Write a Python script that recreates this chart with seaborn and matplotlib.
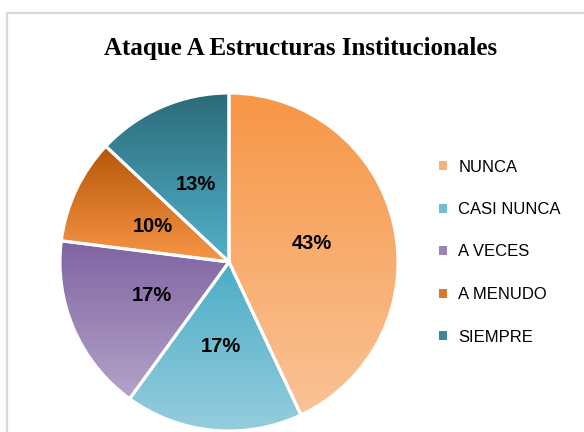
import numpy as np
import matplotlib
matplotlib.use("Agg")
import matplotlib.pyplot as plt
from matplotlib.colors import LinearSegmentedColormap
from matplotlib.patches import Patch, Rectangle
import seaborn as sns

# Data
categories = ["NUNCA", "CASI NUNCA", "A VECES", "A MENUDO", "SIEMPRE"]
values = [43, 17, 17, 10, 13]
title = "Ataque A Estructuras Institucionales"

# Gradient colors per slice (top, bottom)
top_colors = ["#F79646", "#4BACC6", "#8064A2", "#B65708", "#2B6B7A"]
bottom_colors = ["#FAC396", "#96CEDE", "#B3A3C9", "#F79646", "#52B1CA"]
legend_colors = ["#F9B07A", "#6FBED3", "#9A85B6", "#D9772A", "#3B8A9C"]

sns.set_theme(style="white")
plt.rcParams["font.family"] = ["Liberation Sans", "DejaVu Sans"]
plt.rcParams["text.color"] = "black"

fig = plt.figure(figsize=(5.84, 4.32), dpi=100)

# light gray outer frame (chart area border)
fig.patches.append(Rectangle((6.5 / 584, -0.1), 1.2, 1 - 13.5 / 432 + 0.1,
                             transform=fig.transFigure, fill=False,
                             edgecolor="#D9D9D9", linewidth=1.6))

ax = fig.add_axes([60 / 584, 1 / 432, 338 / 584, 338 / 432])
wedges, texts, autotexts = ax.pie(
    values, startangle=90, counterclock=False, radius=1,
    colors=legend_colors, autopct="%1.0f%%", pctdistance=0.5,
    wedgeprops=dict(edgecolor="white", linewidth=2.2),
    textprops=dict(fontsize=14.5, fontweight="bold", color="black"),
)

# vertical gradient inside each wedge
grad = np.linspace(0, 1, 256).reshape(-1, 1)
for w, ct, cb in zip(wedges, top_colors, bottom_colors):
    verts = w.get_path().vertices
    x0, y0 = verts.min(axis=0)
    x1, y1 = verts.max(axis=0)
    cmap = LinearSegmentedColormap.from_list("g", [ct, cb])
    im = ax.imshow(grad, cmap=cmap, extent=[x0, x1, y0, y1], origin="upper",
                   aspect="auto", zorder=w.get_zorder() + 0.1)
    im.set_clip_path(w)
    w.set_zorder(w.get_zorder() + 0.2)
    w.set_facecolor("none")
for t in autotexts:
    t.set_zorder(5)

ax.set_xlim(-1.0, 1.0)
ax.set_ylim(-1.0, 1.0)
ax.set_aspect("equal")
ax.axis("off")

handles = [Patch(facecolor=c, edgecolor="none") for c in legend_colors]
fig.legend(handles, categories, loc="center left",
           bbox_to_anchor=(424 / 584, 1 - 252 / 432), frameon=False,
           fontsize=12, handlelength=0.45, handleheight=0.45,
           handletextpad=0.7, labelspacing=1.65)

fig.text(301 / 584, 1 - 49 / 432, title, ha="center", va="center",
         fontsize=18, fontweight="bold", family=["Liberation Serif", "DejaVu Serif"])

fig.savefig("out.png", dpi=100)
